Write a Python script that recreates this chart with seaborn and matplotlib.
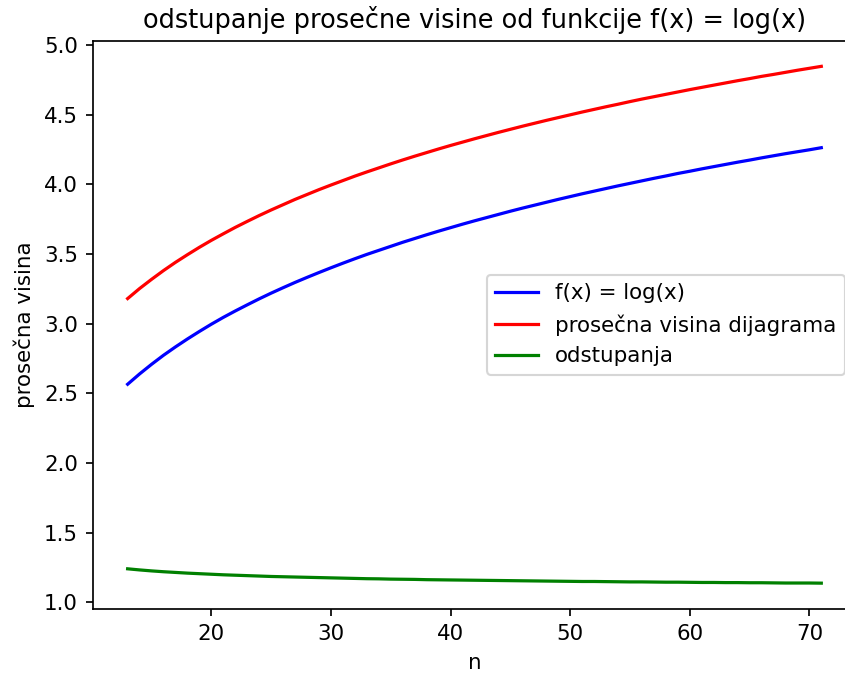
import matplotlib
matplotlib.use("Agg")
import matplotlib.pyplot as plt
import seaborn as sns
import pandas as pd

# n values on the x axis
n_values = list(range(13, 72))

# f(x) = log(x)
log_values = [
    2.565, 2.639, 2.708, 2.773, 2.833, 2.890, 2.944, 2.996, 3.045, 3.091,
    3.135, 3.178, 3.219, 3.258, 3.296, 3.332, 3.367, 3.401, 3.434, 3.466,
    3.497, 3.526, 3.555, 3.584, 3.611, 3.638, 3.664, 3.689, 3.714, 3.738,
    3.761, 3.784, 3.807, 3.829, 3.850, 3.871, 3.892, 3.912, 3.932, 3.951,
    3.970, 3.989, 4.007, 4.025, 4.043, 4.060, 4.078, 4.094, 4.111, 4.127,
    4.143, 4.159, 4.174, 4.190, 4.205, 4.220, 4.234, 4.248, 4.263,
]

# average diagram height, red curve
avg_height = [
    3.180, 3.252, 3.318, 3.381, 3.440, 3.495, 3.548, 3.598, 3.645, 3.691,
    3.734, 3.776, 3.816, 3.854, 3.892, 3.927, 3.962, 3.995, 4.027, 4.059,
    4.089, 4.118, 4.147, 4.175, 4.202, 4.228, 4.254, 4.279, 4.303, 4.327,
    4.350, 4.373, 4.395, 4.417, 4.438, 4.459, 4.479, 4.499, 4.519, 4.538,
    4.557, 4.575, 4.594, 4.612, 4.629, 4.646, 4.663, 4.680, 4.696, 4.712,
    4.728, 4.744, 4.759, 4.775, 4.789, 4.804, 4.819, 4.833, 4.847,
]

# deviations, green curve
deviation = [
    1.240, 1.232, 1.225, 1.219, 1.214, 1.209, 1.205, 1.201, 1.197, 1.194,
    1.191, 1.188, 1.185, 1.183, 1.181, 1.179, 1.177, 1.175, 1.173, 1.171,
    1.169, 1.168, 1.166, 1.165, 1.164, 1.162, 1.161, 1.160, 1.159, 1.158,
    1.157, 1.156, 1.155, 1.154, 1.153, 1.152, 1.151, 1.150, 1.149, 1.149,
    1.148, 1.147, 1.146, 1.146, 1.145, 1.144, 1.144, 1.143, 1.142, 1.142,
    1.141, 1.141, 1.140, 1.140, 1.139, 1.138, 1.138, 1.138, 1.137,
]

series_labels = ["f(x) = log(x)", "prosečna visina dijagrama", "odstupanja"]
series_colors = ["blue", "red", "green"]

df = pd.DataFrame({
    "n": n_values * 3,
    "value": log_values + avg_height + deviation,
    "series": [series_labels[0]] * len(n_values)
              + [series_labels[1]] * len(n_values)
              + [series_labels[2]] * len(n_values),
})

DPI = 154
fig = plt.figure(figsize=(845 / DPI, 673 / DPI), dpi=DPI)
# axes extends past the right edge, like the cropped original
ax = fig.add_axes([0.110, 0.0951, 0.903, 0.8447])

sns.lineplot(data=df, x="n", y="value", hue="series",
             palette=dict(zip(series_labels, series_colors)), ax=ax)

ax.set_title("odstupanje prosečne visine od funkcije f(x) = log(x)")
ax.set_xlabel("n")
ax.set_ylabel("prosečna visina")
ax.legend(loc="center right")

fig.savefig("out.png", dpi=DPI)
